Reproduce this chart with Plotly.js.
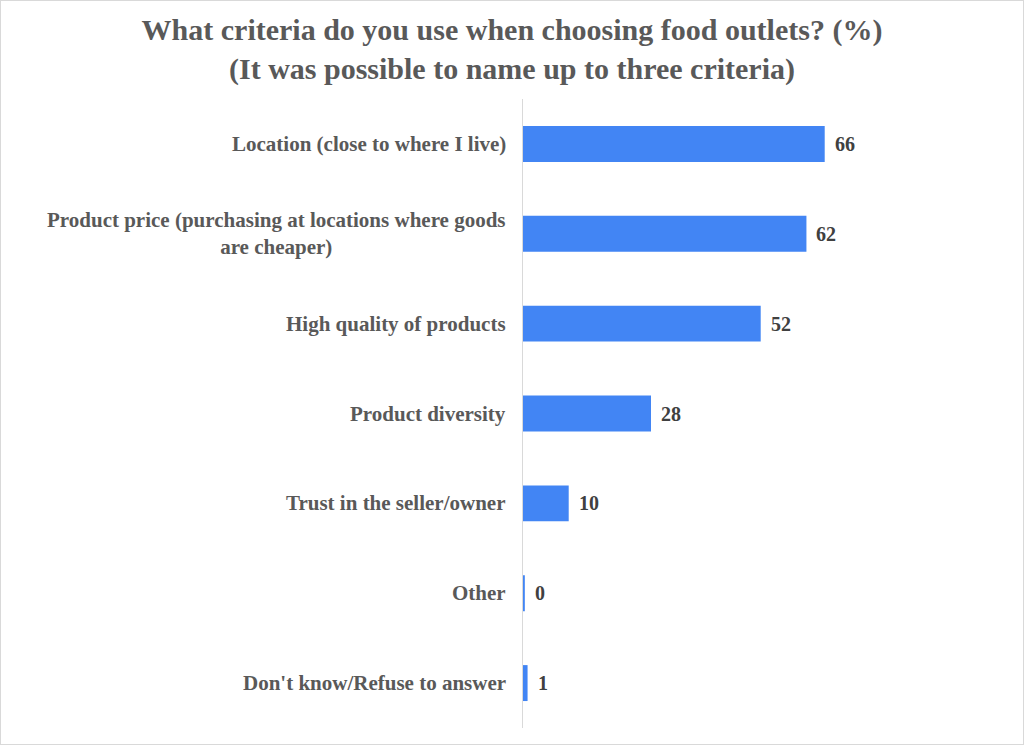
<!DOCTYPE html>
<html><head><meta charset="utf-8">
<script src="https://cdn.plot.ly/plotly-3.0.1.min.js"></script>
<style>html,body{margin:0;padding:0;background:#fff}#c{width:1022px;height:743px;border:1px solid #d9d9d9}</style>
</head><body><div id="c"></div>
<script>
const categories = ["Location (close to where I live)","Product price (purchasing at locations where goods<br>are cheaper)","High quality of products","Product diversity","Trust in the seller/owner","Other","Don't know/Refuse to answer"];
const values = [66, 62, 52, 28, 10, 0.4, 1];
const valueLabels = ["66","62","52","28","10","0","1"];
const font = "'Liberation Serif','Times New Roman',serif";
const trace = {type:'bar', orientation:'h', y:categories, x:values, marker:{color:'#4285F4'}, hoverinfo:'skip'};
const catAnn = categories.map(c=>({x:0,xref:'paper',y:c,yref:'y',xanchor:'right',xshift:-15,yanchor:'middle',align:'center',showarrow:false,text:c,font:{family:font,size:21,color:'#595959',weight:'bold'}}));
const valAnn = categories.map((c,i)=>({x:values[i],xref:'x',y:c,yref:'y',xanchor:'left',xshift:8,yanchor:'middle',showarrow:false,text:valueLabels[i],font:{family:font,size:20,color:'#404040',weight:'bold'}}));
const layout = {width:1022,height:743,margin:{l:522,r:180,t:98,b:16},paper_bgcolor:'#fff',plot_bgcolor:'#fff',
  title:{text:'What criteria do you use when choosing food outlets? (%)<br>(It was possible to name up to three criteria)',x:0.5,xanchor:'center',yref:'container',y:0.948,yanchor:'middle',font:{family:font,size:30,color:'#595959',weight:'bold'}},
  bargap:0.6, showlegend:false,
  xaxis:{range:[0,70],visible:false,showgrid:false,zeroline:false},
  yaxis:{autorange:'reversed',showticklabels:false,ticks:'',showline:true,linecolor:'#d9d9d9',linewidth:1,showgrid:false},
  annotations:catAnn.concat(valAnn)};
Plotly.newPlot('c',[trace],layout,{displayModeBar:false,staticPlot:true});
</script></body></html>
